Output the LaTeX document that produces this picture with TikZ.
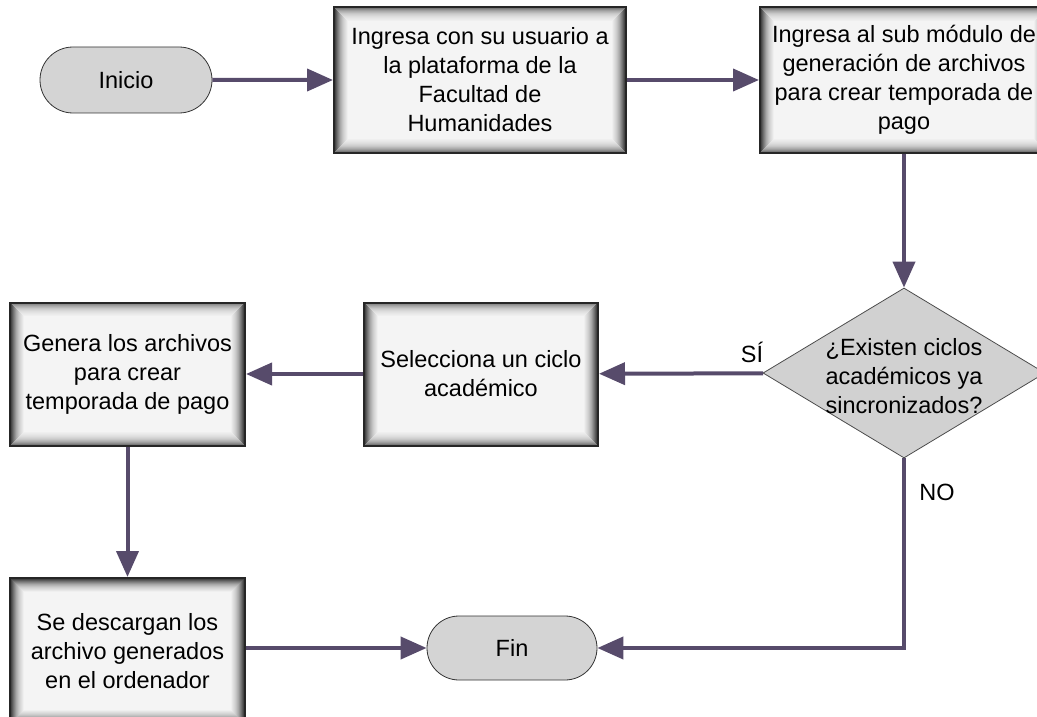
\documentclass[tikz,border=0pt]{standalone}
\usepackage{fontspec}
\setmainfont{Liberation Sans}
\usetikzlibrary{arrows.meta,shapes.geometric,shapes.misc}
\definecolor{arr}{HTML}{574B6B}
\definecolor{term}{HTML}{D4D4D4}
\definecolor{boxfill}{HTML}{F4F4F4}
\tikzset{
  procbox/.style={rectangle, draw=black!85, line width=2pt, fill=boxfill, inner sep=0pt,
    align=center, font=\fontsize{23.5}{29}\selectfont,
    path picture={
      \foreach \i/\o in {1/0.5,2/0.42,3/0.35,4/0.29,5/0.24,6/0.19,7/0.15,8/0.12,9/0.09,10/0.07,11/0.05,12/0.035,13/0.02}
        \draw[line width=1.1pt, black, opacity=\o]
          ([shift={(\i pt,-\i pt)}]path picture bounding box.north west) rectangle
          ([shift={(-\i pt,\i pt)}]path picture bounding box.south east);
    }},
  termbox/.style={rounded rectangle, draw=black!80, line width=0.8pt, fill=term,
    inner sep=0pt, font=\fontsize{23.5}{29}\selectfont},
  flow/.style={draw=arr, line width=4pt, -{Triangle[width=22pt,length=26pt]}},
  lbl/.style={font=\fontsize{23.5}{28}\selectfont, inner sep=0pt}
}
\begin{document}
\begin{tikzpicture}[x=1pt,y=-1pt]
\useasboundingbox (0,0) rectangle (1037,717);
\node[termbox, minimum width=172pt, minimum height=66pt] (ini) at (126,80) {Inicio};
\node[procbox, minimum width=292pt, minimum height=145pt] (b1) at (480,80)
  {Ingresa con su usuario a\\la plataforma de la\\Facultad de\\Humanidades};
\node[procbox, minimum width=288pt, minimum height=145pt] (b2) at (904,80)
  {Ingresa al sub módulo de\\generación de archivos\\para crear temporada de\\pago};
\node[diamond, draw=black!70, line width=0.8pt, fill=black!18, minimum width=282pt,
  minimum height=170pt, inner sep=0pt] (dia) at (904,373) {};
\node[align=center, font=\fontsize{23.5}{29}\selectfont] (diat) at (904,376)
  {¿Existen ciclos\\académicos ya\\sincronizados?};
\node[procbox, minimum width=234pt, minimum height=143pt] (sel) at (481,374)
  {Selecciona un ciclo\\académico};
\node[procbox, minimum width=235pt, minimum height=143pt] (gen) at (127.5,374)
  {Genera los archivos\\para crear\\temporada de pago};
\node[procbox, minimum width=235pt, minimum height=146pt, anchor=north] (des) at (127.5,577)
  {Se descargan los\\archivo generados\\en el ordenador};
\node[termbox, minimum width=170pt, minimum height=64pt] (fin) at (512,648) {Fin};
\node[lbl] (si) at (752,352) {SÍ};
\node[lbl] (no) at (937,492) {NO};
\draw[flow] (ini) -- (b1);
\draw[flow] (b1) -- (b2);
\draw[flow] (b2) -- (dia);
\draw[flow] (dia) -- (sel);
\draw[flow] (sel) -- (gen);
\draw[flow] (gen) -- (des);
\draw[flow] (des.east |- fin) -- (fin);
\draw[flow] (dia.south) |- (fin.east);
\end{tikzpicture}
\end{document}
